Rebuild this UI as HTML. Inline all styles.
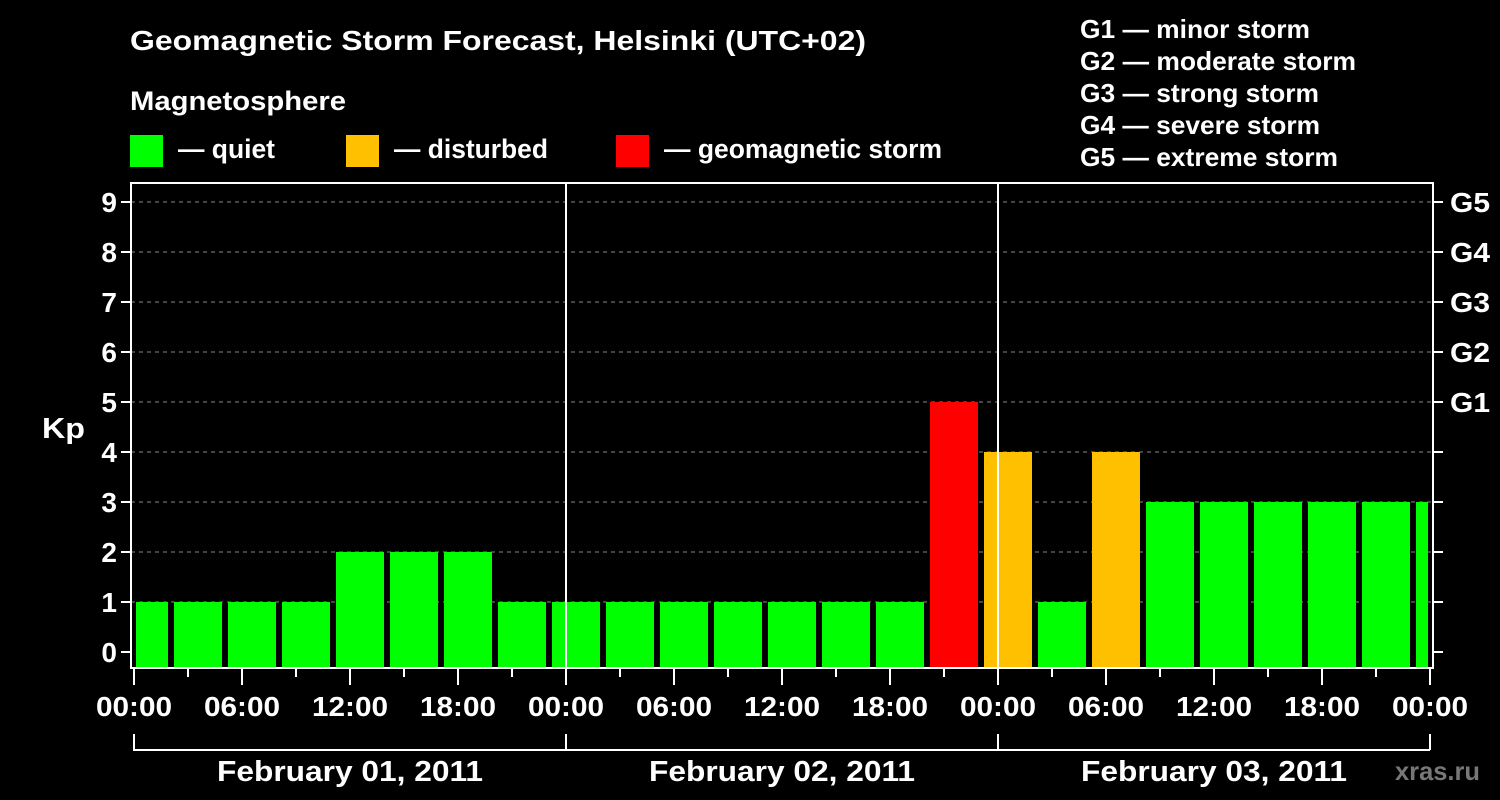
<!DOCTYPE html>
<html><head><meta charset="utf-8"><style>
html,body{margin:0;padding:0;background:#000;}
svg{display:block;font-family:"Liberation Sans",sans-serif;font-weight:bold;}
</style></head><body>
<svg id="chart" width="1500" height="800" viewBox="0 0 1500 800">
<rect x="0" y="0" width="1500" height="800" fill="#000"/>
<text x="130" y="50" fill="#fff" font-size="28" textLength="736" lengthAdjust="spacingAndGlyphs">Geomagnetic Storm Forecast, Helsinki (UTC+02)</text>
<text x="130" y="110" fill="#fff" font-size="27" textLength="216" lengthAdjust="spacingAndGlyphs">Magnetosphere</text>
<g><rect x="130" y="135" width="33" height="32" fill="#00ff00"/><text x="178" y="158" fill="#fff" font-size="27" textLength="97" lengthAdjust="spacingAndGlyphs">— quiet</text></g>
<g><rect x="346" y="135" width="33" height="32" fill="#ffc000"/><text x="394" y="158" fill="#fff" font-size="27" textLength="154" lengthAdjust="spacingAndGlyphs">— disturbed</text></g>
<g><rect x="616" y="135" width="33" height="32" fill="#ff0000"/><text x="664" y="158" fill="#fff" font-size="27" textLength="278" lengthAdjust="spacingAndGlyphs">— geomagnetic storm</text></g>
<g fill="#fff" font-size="26" lengthAdjust="spacingAndGlyphs">
<text x="1080" y="38" textLength="230" lengthAdjust="spacingAndGlyphs">G1 — minor storm</text>
<text x="1080" y="70" textLength="276" lengthAdjust="spacingAndGlyphs">G2 — moderate storm</text>
<text x="1080" y="102" textLength="239" lengthAdjust="spacingAndGlyphs">G3 — strong storm</text>
<text x="1080" y="134" textLength="240" lengthAdjust="spacingAndGlyphs">G4 — severe storm</text>
<text x="1080" y="166" textLength="258" lengthAdjust="spacingAndGlyphs">G5 — extreme storm</text>
</g>
<text x="42" y="438" fill="#fff" font-size="29" textLength="43" lengthAdjust="spacingAndGlyphs">Kp</text>
<text x="1395" y="780" fill="#777" font-size="26" textLength="85" lengthAdjust="spacingAndGlyphs">xras.ru</text>
<g id="grid"></g><g id="bars"></g><g id="axes"></g>
</svg>
<script>
const kpValues = [1,1,1,1,2,2,2,1, 1,1,1,1,1,1,1, 5,4,1,4, 3,3,3,3,3,3];
const slotStartHour = -1;
const slotHours = 3;
const yTicks = [0,1,2,3,4,5,6,7,8,9];
const gLabels = ["", "", "", "", "", "G1","G2","G3","G4","G5"];
const xTickLabels = ["00:00","06:00","12:00","18:00","00:00","06:00","12:00","18:00","00:00","06:00","12:00","18:00","00:00"];
const dayLabels = ["February 01, 2011","February 02, 2011","February 03, 2011"];

const NS="http://www.w3.org/2000/svg";
const X0=134, PXH=18, Y0=652, PXK=50, L=131, R=1433, T=183, B=668;
const xs=h=>X0+h*PXH, ys=k=>Y0-k*PXK;
function mk(tag,attrs,parent,txt){const e=document.createElementNS(NS,tag);for(const k in attrs)e.setAttribute(k,attrs[k]);if(txt!==undefined)e.textContent=txt;document.getElementById(parent).appendChild(e);return e;}
const color=k=>k>=5?"#ff0000":(k>=4?"#ffc000":"#00ff00");

yTicks.forEach(k=>{
  if(k>0){const g=mk("line",{x1:L,x2:R,y1:ys(k),y2:ys(k),stroke:"#888","stroke-dasharray":"4,4","stroke-width":1},"grid");
  
  }
  const t=mk("line",{x1:L-10,x2:L,y1:ys(k),y2:ys(k),stroke:"#fff","stroke-width":2},"axes");
  
  
  const t2=mk("line",{x1:R,x2:R+10,y1:ys(k),y2:ys(k),stroke:"#fff","stroke-width":2},"axes");
  
  
  const lb=mk("text",{x:L-14,y:ys(k)+10,fill:"#fff","font-size":28,"text-anchor":"end"},"axes",String(k));
  
  
  if(gLabels[k]){const gl=mk("text",{x:R+17,y:ys(k)+10,fill:"#fff","font-size":28,textLength:40,lengthAdjust:"spacingAndGlyphs"},"axes",gLabels[k]);
  
  }
});

kpValues.forEach((k,i)=>{
  const h0=slotStartHour+i*slotHours;
  let x1=Math.max(xs(h0)+4,136), x2=Math.min(xs(h0+slotHours)-2,1428);
  const b=mk("rect",{x:x1,y:ys(k),width:x2-x1,height:B-1-ys(k),fill:color(k)},"bars");
  
  
});

const fr=mk("rect",{x:L,y:T,width:R-L,height:B-T,fill:"none",stroke:"#fff","stroke-width":2},"axes");


[1,2].forEach(d=>{const s=mk("line",{x1:xs(24*d),x2:xs(24*d),y1:T,y2:B,stroke:"#fff","stroke-width":2},"axes");
  
  });

for(let h=0;h<=72;h+=3){
  const major=h%6===0;
  const t=mk("line",{x1:xs(h),x2:xs(h),y1:B,y2:B+(major?17:9),stroke:"#fff","stroke-width":2},"axes");
  
  
}
xTickLabels.forEach((s,i)=>{
  const t=mk("text",{x:xs(i*6)-38,y:716,fill:"#fff","font-size":28,textLength:76,lengthAdjust:"spacingAndGlyphs"},"axes",s);
  
  
});
dayLabels.forEach((s,d)=>{
  const br=mk("path",{d:`M${xs(24*d)},734 V750 H${xs(24*d+24)} M${xs(24*d+24)},734 V750`,stroke:"#fff","stroke-width":2,fill:"none"},"axes");
  
  
  const t=mk("text",{x:xs(24*d+12)-133,y:781,fill:"#fff","font-size":29,textLength:266,lengthAdjust:"spacingAndGlyphs"},"axes",s);
  
  
});
</script>
</body></html>
